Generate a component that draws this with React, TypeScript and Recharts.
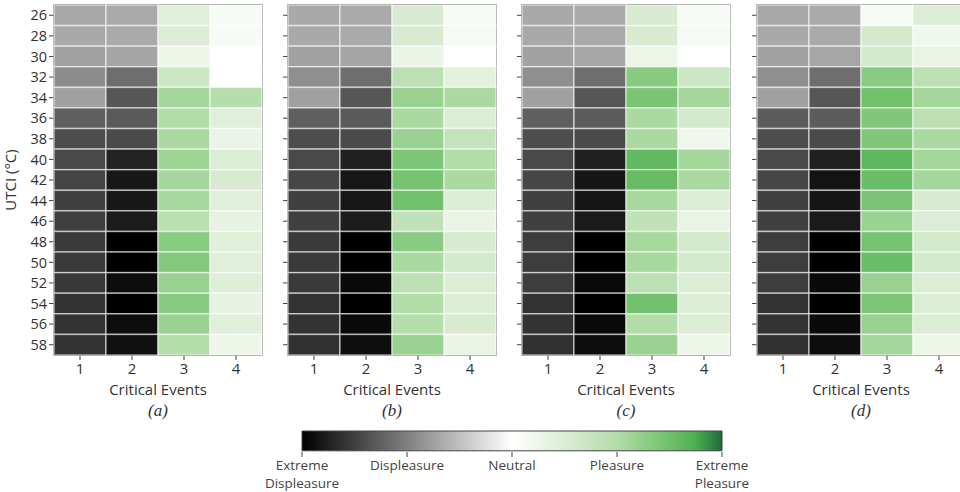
import React from "react"
import { ScatterChart, Scatter, XAxis, YAxis, ReferenceArea, BarChart, Bar, Label } from "recharts"

// UTCI rows (top to bottom) and critical-event columns
const temps = [26, 28, 30, 32, 34, 36, 38, 40, 42, 44, 46, 48, 50, 52, 54, 56, 58]
const events = [1, 2, 3, 4]
const panelNames = ["(a)", "(b)", "(c)", "(d)"]
const scaleLabels = [["Extreme", "Displeasure"], ["Displeasure"], ["Neutral"], ["Pleasure"], ["Extreme", "Pleasure"]]

// comfort score per cell: -2 extreme displeasure ... 0 neutral ... 2 extreme pleasure
const a1 = [-0.68, -0.68, -0.73, -0.9, -0.75, -1.26, -1.4, -1.43, -1.47, -1.5, -1.51, -1.55, -1.55, -1.56, -1.6, -1.6, -1.6]
const a2 = [-0.67, -0.67, -0.71, -1.14, -1.33, -1.3, -1.42, -1.73, -1.81, -1.81, -1.78, -2, -2, -1.9, -2, -1.9, -1.87]
const a3 = [0.45, 0.5, 0.25, 0.7, 1.1, 1.0, 1.05, 1.15, 1.1, 1.08, 0.9, 1.3, 1.35, 1.2, 1.32, 1.18, 0.95]
const a4 = [0.12, 0.12, 0, 0, 0.95, 0.45, 0.28, 0.5, 0.55, 0.45, 0.35, 0.45, 0.45, 0.47, 0.35, 0.45, 0.25]

const b1 = [-0.68, -0.68, -0.73, -0.88, -0.75, -1.26, -1.4, -1.43, -1.45, -1.5, -1.5, -1.55, -1.55, -1.55, -1.6, -1.6, -1.62]
const b2 = [-0.67, -0.67, -0.71, -1.14, -1.33, -1.3, -1.42, -1.75, -1.82, -1.82, -1.78, -2, -2, -1.92, -2, -1.92, -1.88]
const b3 = [0.55, 0.55, 0.28, 0.88, 1.2, 1.05, 1.2, 1.4, 1.45, 1.5, 0.82, 1.3, 1.05, 0.88, 1.0, 0.95, 1.2]
const b4 = [0.13, 0.13, 0, 0.4, 1.05, 0.5, 0.78, 1.0, 1.05, 0.5, 0.3, 0.57, 0.6, 0.5, 0.5, 0.55, 0.3]

const c1 = [-0.68, -0.68, -0.73, -0.88, -0.75, -1.26, -1.4, -1.43, -1.45, -1.5, -1.5, -1.52, -1.52, -1.52, -1.6, -1.6, -1.62]
const c2 = [-0.67, -0.67, -0.7, -1.14, -1.33, -1.28, -1.42, -1.75, -1.83, -1.83, -1.8, -2, -2, -1.92, -2, -1.92, -1.9]
const c3 = [0.55, 0.55, 0.27, 1.32, 1.42, 1.05, 1.05, 1.6, 1.57, 1.08, 0.82, 1.08, 1.08, 0.88, 1.48, 1.0, 1.18]
const c4 = [0.13, 0.13, 0, 0.7, 1.1, 0.6, 0.22, 1.1, 1.05, 0.5, 0.3, 0.6, 0.6, 0.5, 0.5, 0.5, 0.25]

const d1 = [-0.68, -0.68, -0.73, -0.88, -0.75, -1.28, -1.4, -1.43, -1.45, -1.5, -1.5, -1.52, -1.52, -1.52, -1.6, -1.6, -1.62]
const d2 = [-0.67, -0.67, -0.7, -1.14, -1.33, -1.28, -1.42, -1.75, -1.85, -1.83, -1.8, -2, -2, -1.92, -2, -1.92, -1.9]
const d3 = [0.12, 0.6, 0.6, 1.3, 1.5, 1.38, 1.38, 1.62, 1.55, 1.42, 1.18, 1.45, 1.55, 1.2, 1.4, 1.2, 1.1]
const d4 = [0.5, 0.22, 0.3, 0.88, 1.1, 0.88, 1.05, 1.1, 1.1, 0.55, 0.5, 0.6, 0.6, 0.5, 0.5, 0.5, 0.25]

const panels = [
    [a1, a2, a3, a4],
    [b1, b2, b3, b4],
    [c1, c2, c3, c4],
    [d1, d2, d3, d4],
]

const scaleTicks = [0, 1, 2, 3, 4]
const scaleBar = [{ name: "scale", v: 4 }]

// colour map stops (score, colour)
const stops: [number, string][] = [
    [-2, "#000000"],
    [-1, "#808080"],
    [0, "#ffffff"],
    [0.5, "#dcedd5"],
    [1, "#b2dca8"],
    [1.5, "#70c06c"],
    [1.75, "#4caf50"],
    [2, "#1b6b3a"],
]

const hex = (s: string) => [1, 3, 5].map((i) => parseInt(s.slice(i, i + 2), 16))

function colorFor(v: number) {
    for (let i = 0; i < stops.length - 1; i++) {
        const [v0, c0] = stops[i]
        const [v1, c1] = stops[i + 1]
        if (v <= v1) {
            const t = Math.max(0, (v - v0) / (v1 - v0))
            const a = hex(c0)
            const b = hex(c1)
            const rgb = a.map((x, k) => Math.round(x + (b[k] - x) * t))
            return `rgb(${rgb.join(",")})`
        }
    }
    return stops[stops.length - 1][1]
}

const FONT = "'Open Sans', sans-serif"
const PLOT_W = 208
const PLOT_H = 350
const CELL_W = PLOT_W / events.length
const CELL_H = PLOT_H / temps.length
const panelLefts = [0, 234, 468, 703]

function Cell(props: any) {
    const { cx, cy, payload } = props
    if (cx == null || cy == null) return null
    return (
        <rect
            x={cx - CELL_W / 2}
            y={cy - CELL_H / 2}
            width={CELL_W}
            height={CELL_H}
            fill={colorFor(payload.v)}
            stroke="rgba(255,255,255,0.55)"
            strokeWidth={1.5}
        />
    )
}

function Panel({ cols, index }: { cols: number[][]; index: number }) {
    const data = temps.flatMap((t, i) => cols.map((c, j) => ({ x: events[j], y: t, v: c[i] })))
    const first = index === 0
    return (
        <ScatterChart width={270} height={400} margin={{ top: 5, right: 8, bottom: 0, left: 0 }}>
            <XAxis
                type="number"
                dataKey="x"
                domain={[0.5, 4.5]}
                ticks={events}
                interval={0}
                axisLine={false}
                tickLine={{ stroke: "#444" }}
                tickSize={5}
                tickMargin={3}
                height={45}
                tick={{ fill: "#333", fontSize: 15, fontFamily: FONT }}
            >
                <Label value="Critical Events" position="insideBottom" offset={5} fill="#333" fontSize={15} fontFamily={FONT} />
            </XAxis>
            <YAxis
                type="number"
                dataKey="y"
                domain={[25, 59]}
                reversed
                ticks={temps}
                interval={0}
                axisLine={false}
                tickLine={{ stroke: "#444" }}
                tickSize={5}
                tickMargin={2}
                width={54}
                tickFormatter={(t) => (first ? String(t) : "")}
                tick={{ fill: "#333", fontSize: 14.5, fontFamily: FONT }}
            >
                {first && (
                    <Label
                        content={(p: any) => {
                            const vb = p.viewBox || { x: 0, y: 5, height: PLOT_H }
                            const lx = vb.x + 10
                            const ly = vb.y + vb.height / 2
                            return (
                                <text
                                    x={lx}
                                    y={ly}
                                    transform={`rotate(-90 ${lx} ${ly})`}
                                    textAnchor="middle"
                                    dominantBaseline="central"
                                    fill="#333"
                                    fontSize={15}
                                    fontFamily={FONT}
                                >
                                    UTCI (°C)
                                </text>
                            )
                        }}
                    />
                )}
            </YAxis>
            <Scatter data={data} shape={Cell} isAnimationActive={false} />
            <ReferenceArea x1={0.5} x2={4.5} y1={25} y2={59} fill="none" stroke="#555" strokeWidth={1.3} />
        </ScatterChart>
    )
}

function ScaleTick(props: any) {
    const { x, y, payload } = props
    const lines = scaleLabels[payload.value] || []
    return (
        <text x={x} y={y} textAnchor="middle" fill="#444" fontSize={13.5} fontFamily={FONT}>
            {lines.map((l, i) => (
                <tspan key={i} x={x} dy={i === 0 ? "0.85em" : 18}>
                    {l}
                </tspan>
            ))}
        </text>
    )
}

function ColorScale() {
    return (
        <BarChart
            layout="vertical"
            width={500}
            height={67}
            data={scaleBar}
            margin={{ top: 5, right: 40, bottom: 0, left: 40 }}
            barCategoryGap={0}
        >
            <defs>
                <linearGradient id="comfortScale" x1="0" y1="0" x2="1" y2="0">
                    {stops.map(([v, c]) => (
                        <stop key={v} offset={`${((v + 2) / 4) * 100}%`} stopColor={c} />
                    ))}
                </linearGradient>
            </defs>
            <XAxis
                type="number"
                domain={[0, 4]}
                ticks={scaleTicks}
                interval={0}
                axisLine={false}
                tickLine={{ stroke: "#444" }}
                tickSize={5}
                tickMargin={2}
                height={40}
                tick={<ScaleTick />}
            />
            <YAxis type="category" dataKey="name" hide />
            <Bar dataKey="v" barSize={22} fill="url(#comfortScale)" stroke="#444" strokeWidth={1} isAnimationActive={false} />
        </BarChart>
    )
}

export default function App() {
    return (
        <div
            style={{
                position: "absolute",
                left: 0,
                top: 0,
                width: 960,
                height: 492,
                overflow: "hidden",
                background: "#fff",
                fontFamily: FONT,
            }}
        >
            {panels.map((cols, i) => (
                <div key={i} style={{ position: "absolute", left: panelLefts[i], top: 0 }}>
                    <Panel cols={cols} index={i} />
                </div>
            ))}
            {panelNames.map((n, i) => (
                <div
                    key={n}
                    style={{
                        position: "absolute",
                        left: panelLefts[i] + 54 + PLOT_W / 2 - 20,
                        width: 40,
                        top: 401,
                        textAlign: "center",
                        fontFamily: "'Liberation Serif', serif",
                        fontStyle: "italic",
                        fontSize: 17,
                        color: "#333",
                    }}
                >
                    {n}
                </div>
            ))}
            <div style={{ position: "absolute", left: 262, top: 425 }}>
                <ColorScale />
            </div>
        </div>
    )
}
